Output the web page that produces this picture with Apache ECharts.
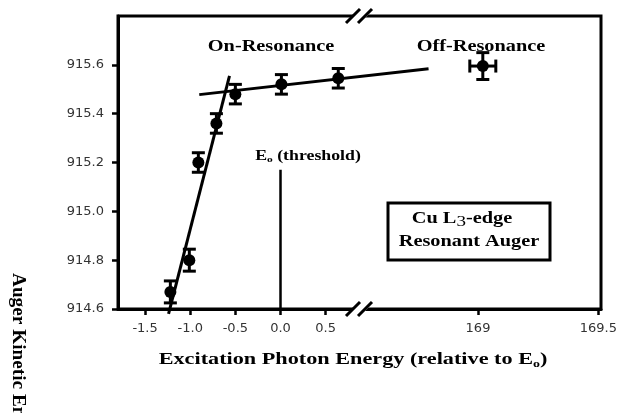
<!DOCTYPE html>
<html>
<head>
<meta charset="utf-8">
<script src="https://cdn.jsdelivr.net/npm/echarts@6/dist/echarts.min.js"></script>
<style>
  html, body { margin: 0; padding: 0; background: #fff; }
  #chart { width: 620px; height: 413px; }
</style>
</head>
<body>
<div id="chart"></div>
<script>
// on-resonance points (x relative to Eo, Auger kinetic energy, error)
const onResX = [-1.22, -1.01, -0.91, -0.71, -0.50, 0.01, 0.64];
const onResY = [914.67, 914.80, 915.20, 915.36, 915.48, 915.52, 915.545];
const onResErr = [0.045, 0.045, 0.04, 0.04, 0.04, 0.04, 0.04];
// off-resonance point (absolute scale of the broken axis)
const offResX = [169.02];
const offResY = [915.595];
const offResErrY = [0.055];
const offResErrX = [0.054];
// guide lines
const steepLine = [[-1.24, 914.58], [-0.565, 915.555]];
const flatLine = [[-0.9, 915.478], [1.64, 915.584]];
const thresholdLine = [[0, 914.6], [0, 915.17]];
// tick labels
const yTicks = [914.6, 914.8, 915.0, 915.2, 915.4, 915.6];
const xTicksLow = [-1.5, -1.0, -0.5, 0.0, 0.5];
const xTicksHigh = [169, 169.5];

const serif = "'Liberation Serif', 'DejaVu Serif', serif";
const sans = "'DejaVu Sans', 'Liberation Sans', sans-serif";
const stretch = 1.27; // the original lettering is a bit wide

let myChart = echarts.init(document.getElementById('chart'));

// error bars with caps, optional horizontal bar
function errBar(params, api) {
  const x = api.value(0), y = api.value(1), ey = api.value(2), ex = api.value(3) || 0;
  const c = api.coord([x, y]);
  const t = api.coord([x, y + ey]);
  const b = api.coord([x, y - ey]);
  const cap = 6.5;
  const st = { stroke: '#000', lineWidth: 3 };
  const kids = [
    { type: 'line', shape: { x1: c[0], y1: t[1], x2: c[0], y2: b[1] }, style: st },
    { type: 'line', shape: { x1: c[0] - cap, y1: t[1], x2: c[0] + cap, y2: t[1] }, style: st },
    { type: 'line', shape: { x1: c[0] - cap, y1: b[1], x2: c[0] + cap, y2: b[1] }, style: st },
  ];
  if (ex) {
    const l = api.coord([x - ex, y]), r = api.coord([x + ex, y]);
    kids.push(
      { type: 'line', shape: { x1: l[0], y1: c[1], x2: r[0], y2: c[1] }, style: st },
      { type: 'line', shape: { x1: l[0], y1: c[1] - cap, x2: l[0], y2: c[1] + cap }, style: st },
      { type: 'line', shape: { x1: r[0], y1: c[1] - cap, x2: r[0], y2: c[1] + cap }, style: st }
    );
  }
  return { type: 'group', children: kids };
}

const onData = onResX.map((x, i) => [x, onResY[i], onResErr[i]]);
const offData = offResX.map((x, i) => [x, offResY[i], offResErrY[i], offResErrX[i]]);

const tickStyle = { color: '#000', width: 2.5 };
const labelStyle = { color: '#333', fontFamily: sans, fontSize: 13 };

myChart.setOption({
  animation: false,
  grid: [
    { left: 118, right: 19, top: 16, bottom: 104, show: true, borderColor: '#000', borderWidth: 3 },
    { left: 360, right: 19, top: 16, bottom: 104, show: false },
  ],
  xAxis: [
    {
      type: 'value', gridIndex: 0, min: -1.8, max: 3.55,
      axisLine: { show: true, onZero: false, lineStyle: { color: '#000', width: 3 } },
      axisTick: { show: true, customValues: xTicksLow, length: 6, lineStyle: tickStyle },
      axisLabel: Object.assign({ customValues: xTicksLow, margin: 13, formatter: v => v.toFixed(1) }, labelStyle),
      splitLine: { show: false },
    },
    {
      type: 'value', gridIndex: 1, min: 168.51, max: 169.5,
      axisLine: { show: false, onZero: false },
      axisTick: { show: true, customValues: xTicksHigh, length: 6, lineStyle: tickStyle },
      axisLabel: Object.assign({ customValues: xTicksHigh, margin: 13, formatter: v => String(v) }, labelStyle),
      splitLine: { show: false },
    },
  ],
  yAxis: [
    {
      type: 'value', gridIndex: 0, min: 914.6, max: 915.8,
      axisLine: { show: true, onZero: false, lineStyle: { color: '#000', width: 3 } },
      axisTick: { show: true, customValues: yTicks, length: 6, lineStyle: tickStyle },
      axisLabel: Object.assign({ customValues: yTicks, margin: 14, formatter: v => v.toFixed(1) }, labelStyle),
      splitLine: { show: false },
    },
    { type: 'value', gridIndex: 1, min: 914.6, max: 915.8, show: false },
  ],
  series: [
    {
      type: 'line', xAxisIndex: 0, yAxisIndex: 0, data: steepLine, symbol: 'none', clip: false,
      lineStyle: { color: '#000', width: 3 },
    },
    {
      type: 'line', xAxisIndex: 0, yAxisIndex: 0, data: flatLine, symbol: 'none', clip: false,
      lineStyle: { color: '#000', width: 3 },
    },
    {
      type: 'line', xAxisIndex: 0, yAxisIndex: 0, data: thresholdLine, symbol: 'none',
      lineStyle: { color: '#000', width: 2.5 },
    },
    {
      type: 'custom', xAxisIndex: 0, yAxisIndex: 0, data: onData, renderItem: errBar,
      encode: { x: 0, y: 1 }, z: 3,
    },
    {
      type: 'scatter', xAxisIndex: 0, yAxisIndex: 0, data: onData.map(d => [d[0], d[1]]),
      symbol: 'circle', symbolSize: 12, itemStyle: { color: '#000', opacity: 1 }, z: 4,
    },
    {
      type: 'custom', xAxisIndex: 1, yAxisIndex: 1, data: offData, renderItem: errBar,
      encode: { x: 0, y: 1 }, z: 3,
    },
    {
      type: 'scatter', xAxisIndex: 1, yAxisIndex: 1, data: offData.map(d => [d[0], d[1]]),
      symbol: 'circle', symbolSize: 12, itemStyle: { color: '#000', opacity: 1 }, z: 4,
    },
  ],
});

// axis break marks and annotations
const bx = myChart.convertToPixel({ xAxisIndex: 1 }, 168.51);
const yTop = myChart.convertToPixel({ yAxisIndex: 0 }, 915.8);
const yBot = myChart.convertToPixel({ yAxisIndex: 0 }, 914.6);

function breakMark(cx, cy) {
  const st = { stroke: '#000', lineWidth: 3 };
  return [
    { type: 'polygon', shape: { points: [[cx - 10, cy + 3], [cx - 4, cy - 3], [cx + 10, cy - 3], [cx + 4, cy + 3]] },
      style: { fill: '#fff' }, z: 100 },
    { type: 'line', shape: { x1: cx - 14, y1: cy + 7, x2: cx, y2: cy - 7 }, style: st, z: 101 },
    { type: 'line', shape: { x1: cx - 2, y1: cy + 7, x2: cx + 12, y2: cy - 7 }, style: st, z: 101 },
  ];
}

const boldText = (text, x, y, size, extra) => ({
  type: 'text', x: x, y: y, z: 100, scaleX: stretch,
  style: Object.assign({ text: text, fontFamily: serif, fontWeight: 'bold', fontSize: size, fill: '#000',
    align: 'center', verticalAlign: 'middle' }, extra || {}),
});

myChart.setOption({
  graphic: [
    ...breakMark(bx, yTop),
    ...breakMark(bx, yBot),
    boldText('On-Resonance', 271, 47, 16),
    boldText('Off-Resonance', 481, 47, 16),
    boldText('{b|E}{s|o}{b| (threshold)}', 308, 156, 14, {
      rich: { b: { fontFamily: serif, fontWeight: 'bold', fontSize: 14 },
              s: { fontFamily: serif, fontWeight: 'bold', fontSize: 9, padding: [8, 0, 0, 0] } },
    }),
    {
      type: 'rect', z: 100,
      shape: { x: 388, y: 203, width: 162, height: 57 },
      style: { fill: '#fff', stroke: '#000', lineWidth: 3 },
    },
    boldText('{b|Cu L}{s|3}{b|-edge}', 462, 219, 16, {
      rich: { b: { fontFamily: serif, fontWeight: 'bold', fontSize: 16 },
              s: { fontFamily: serif, fontWeight: 'normal', fontSize: 15, padding: [6, 0, 0, 0] } },
    }),
    boldText('Resonant Auger', 469, 242, 16),
    boldText('{b|Excitation Photon Energy (relative to E}{s|o}{b|)}', 353, 359, 17.5, {
      rich: { b: { fontFamily: serif, fontWeight: 'bold', fontSize: 17.5 },
              s: { fontFamily: serif, fontWeight: 'bold', fontSize: 11, padding: [10, 0, 0, 0] } },
    }),
    Object.assign(boldText('Auger Kinetic Energy (eV)', 18, 273, 18, { align: 'left' }),
      { rotation: -Math.PI / 2, scaleX: 1.07 }),
  ],
});

window.addEventListener('resize', () => {
  myChart.resize();
});
</script>
</body>
</html>
